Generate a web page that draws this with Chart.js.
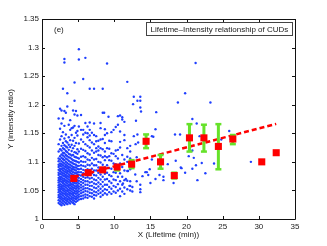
<!DOCTYPE html>
<html lang="en">
<head>
<meta charset="UTF-8">
<title>Lifetime-Intensity relationship of CUDs</title>
<script src="https://cdn.jsdelivr.net/npm/chart.js"></script>
<style>
  body { margin: 0; background: #fff; }
</style>
</head>
<body>
<canvas id="cud-chart" width="327" height="246"></canvas>
<script>
// binned means with green error bars
const meanX = [4.4, 6.4, 8.4, 10.4, 12.4, 14.4, 16.4, 18.3, 20.4, 22.4, 24.4, 26.4, 30.4, 32.4];
const meanY = [1.071, 1.081, 1.086, 1.091, 1.096, 1.136, 1.100, 1.076, 1.142, 1.142, 1.127, 1.140, 1.100, 1.116];
const errLo = [1.069, 1.079, 1.083, 1.085, 1.089, 1.124, 1.088, 1.071, 1.118, 1.118, 1.087, 1.131, 1.100, 1.116];
const errHi = [1.073, 1.083, 1.089, 1.094, 1.103, 1.148, 1.112, 1.081, 1.166, 1.165, 1.166, 1.147, 1.100, 1.116];

// dashed linear fit
const fitX = [4.4, 32.4];
const fitY = [1.0735, 1.1665];

// raw points, dense part: [x, y, y, y...]
const scatterCols = [
  [2.3, 1.028,1.033,1.038,1.042,1.047,1.051,1.055,1.059,1.064,1.068,1.072,1.077,1.081,1.086,1.091,1.095,1.101,1.106,1.118,1.131,1.176],
  [2.5, 1.026,1.031,1.036,1.040,1.044,1.049,1.053,1.057,1.061,1.066,1.070,1.074,1.079,1.084,1.088,1.093,1.097,1.104,1.110,1.122,1.139,1.158,1.193],
  [2.7, 1.024,1.029,1.034,1.038,1.043,1.047,1.052,1.056,1.060,1.065,1.069,1.073,1.078,1.082,1.087,1.092,1.096,1.101,1.107,1.113,1.120,1.128,1.145,1.167,1.190],
  [2.9, 1.027,1.032,1.036,1.041,1.045,1.050,1.054,1.058,1.063,1.067,1.071,1.076,1.080,1.085,1.089,1.094,1.099,1.105,1.111,1.116,1.124,1.133,1.152,1.176,1.228],
  [3.1, 1.025,1.030,1.035,1.039,1.044,1.048,1.052,1.057,1.061,1.066,1.070,1.075,1.079,1.083,1.088,1.092,1.097,1.103,1.109,1.115,1.122,1.129,1.141,1.163,1.189,1.274,1.280],
  [3.3, 1.028,1.033,1.037,1.042,1.046,1.050,1.055,1.059,1.064,1.068,1.073,1.077,1.082,1.086,1.091,1.095,1.100,1.106,1.112,1.119,1.127,1.136,1.148,1.186],
  [3.5, 1.026,1.031,1.035,1.040,1.044,1.049,1.053,1.058,1.062,1.066,1.071,1.075,1.080,1.084,1.089,1.093,1.098,1.104,1.110,1.117,1.125,1.134,1.197,1.220],
  [3.7, 1.029,1.034,1.038,1.043,1.047,1.051,1.056,1.060,1.065,1.069,1.074,1.078,1.083,1.087,1.091,1.096,1.102,1.108,1.114,1.121,1.130,1.143,1.165],
  [3.9, 1.027,1.032,1.036,1.041,1.045,1.050,1.054,1.059,1.063,1.067,1.072,1.076,1.081,1.085,1.090,1.095,1.100,1.107,1.113,1.126,1.138,1.156,1.173],
  [4.1, 1.030,1.035,1.039,1.044,1.048,1.053,1.057,1.061,1.066,1.070,1.075,1.079,1.084,1.088,1.093,1.099,1.105,1.111,1.119,1.130,1.147,1.159],
  [4.3, 1.028,1.033,1.037,1.042,1.046,1.051,1.055,1.060,1.064,1.068,1.073,1.077,1.082,1.087,1.091,1.097,1.103,1.112,1.124,1.137,1.160,1.190],
  [4.5, 1.026,1.031,1.036,1.040,1.045,1.049,1.054,1.058,1.063,1.067,1.072,1.076,1.081,1.086,1.090,1.096,1.102,1.109,1.117,1.128,1.142,1.163,1.183,1.207,1.239],
  [4.7, 1.030,1.035,1.039,1.044,1.048,1.053,1.057,1.062,1.066,1.071,1.075,1.080,1.085,1.090,1.095,1.101,1.108,1.116,1.133,1.151,1.189],
  [4.9, 1.032,1.037,1.041,1.046,1.050,1.055,1.059,1.064,1.068,1.073,1.078,1.082,1.088,1.093,1.100,1.107,1.114,1.122,1.146,1.154,1.181],
  [5.1, 1.034,1.039,1.043,1.048,1.053,1.057,1.062,1.067,1.072,1.077,1.082,1.087,1.093,1.099,1.106,1.118,1.132,1.162,1.279,1.297],
  [5.4, 1.035,1.040,1.045,1.050,1.055,1.060,1.065,1.070,1.076,1.082,1.088,1.094,1.101,1.109,1.123,1.139,1.156,1.182],
  [5.7, 1.036,1.041,1.047,1.052,1.057,1.063,1.068,1.074,1.080,1.086,1.093,1.100,1.110,1.121,1.135,1.148,1.156,1.245],
  [6.0, 1.038,1.043,1.049,1.054,1.060,1.066,1.072,1.078,1.085,1.092,1.100,1.108,1.119,1.131,1.151,1.168,1.282],
  [6.3, 1.037,1.042,1.048,1.054,1.060,1.066,1.073,1.080,1.087,1.095,1.104,1.115,1.128,1.143,1.150,1.162],
  [6.6, 1.040,1.046,1.052,1.058,1.064,1.071,1.078,1.086,1.094,1.103,1.113,1.125,1.138,1.146,1.156,1.169,1.228],
  [6.9, 1.039,1.045,1.051,1.058,1.065,1.072,1.080,1.088,1.097,1.107,1.120,1.134,1.151],
  [7.2, 1.036,1.042,1.048,1.055,1.062,1.069,1.077,1.085,1.094,1.104,1.116,1.131,1.147,1.167,1.228],
  [7.5, 1.041,1.047,1.054,1.061,1.068,1.076,1.085,1.094,1.105,1.118,1.124,1.136,1.145],
  [7.8, 1.044,1.050,1.057,1.064,1.072,1.081,1.090,1.100,1.112,1.120,1.127,1.137],
  [8.1, 1.039,1.046,1.053,1.061,1.069,1.078,1.088,1.099,1.111,1.124,1.139,1.159,1.168],
  [8.4, 1.042,1.049,1.057,1.065,1.074,1.084,1.095,1.108,1.122,1.140,1.186,1.228],
  [8.7, 1.045,1.052,1.060,1.069,1.079,1.090,1.103,1.110,1.118,1.133,1.147,1.157],
  [9.0, 1.043,1.051,1.060,1.070,1.081,1.094,1.108,1.124,1.150,1.272],
  [9.3, 1.047,1.056,1.066,1.077,1.089,1.103,1.110,1.123,1.137],
  [9.6, 1.044,1.053,1.063,1.075,1.088,1.102,1.115,1.136,1.152],
  [9.9, 1.048,1.058,1.069,1.082,1.097,1.114,1.156],
  [10.2, 1.046,1.056,1.068,1.081,1.096,1.110,1.120,1.161],
  [10.5, 1.050,1.061,1.074,1.089,1.106,1.121,1.165,1.180],
  [10.8, 1.040,1.053,1.066,1.080,1.097,1.125,1.135,1.153,1.181],
  [11.1, 1.048,1.060,1.074,1.091,1.112,1.174,1.178],
  [11.4, 1.044,1.055,1.068,1.085,1.104,1.138,1.147,1.170],
  [11.8, 1.052,1.067,1.084,1.100,1.109,1.124,1.240],
  [12.2, 1.050,1.058,1.066,1.087,1.106,1.118,1.128]
];

// raw points, sparse part
const scatterExtra = [
  [12.5, 1.048], [12.5, 1.056], [12.6, 1.201], [12.7, 1.214], [12.9, 1.078], [13.0, 1.172], [13.1, 1.066],
  [13.1, 1.108], [13.2, 1.207], [12.95, 1.131], [13.3, 1.134], [12.7, 1.145], [13.2, 1.148], [13.6, 1.214],
  [13.6, 1.207], [13.6, 1.195], [13.7, 1.188], [13.6, 1.060], [13.6, 1.052], [13.6, 1.047], [13.9, 1.075],
  [14.3, 1.082], [11.9, 1.084], [14.5, 1.082], [14.7, 1.077], [14.9, 1.087], [15.0, 1.063], [15.2, 1.104],
  [15.2, 1.145], [15.4, 1.144], [15.7, 1.157], [15.8, 1.187], [15.7, 1.070], [16.25, 1.077], [16.8, 1.074],
  [16.8, 1.068], [17.4, 1.096], [18.2, 1.063], [18.4, 1.148], [18.5, 1.102], [18.8, 1.204], [19.1, 1.148],
  [19.2, 1.090], [19.3, 1.089], [19.8, 1.081], [19.8, 1.220], [20.3, 1.110], [20.8, 1.120], [20.8, 1.175],
  [20.8, 1.088], [21.0, 1.107], [21.25, 1.273], [21.3, 1.094], [21.4, 1.167], [21.5, 1.068], [21.8, 1.145],
  [22.1, 1.098], [22.6, 1.080], [23.3, 1.204], [23.8, 1.097], [24.8, 1.139], [25.9, 1.154], [26.1, 1.140],
  [28.9, 1.100], [9.2, 1.179], [8.6, 1.186], [11.2, 1.062], [11.6, 1.070], [12.1, 1.058]
];

const scatterPts = [];
scatterCols.forEach(col => {
  for (let i = 1; i < col.length; i++) scatterPts.push({ x: col[0], y: col[i] });
});
scatterExtra.forEach(p => scatterPts.push({ x: p[0], y: p[1] }));

// error bar segments, null breaks the line between bars
const errPts = [];
meanX.forEach((x, i) => {
  if (errHi[i] > errLo[i]) {
    errPts.push({ x: x, y: errLo[i] }, { x: x, y: errHi[i] }, { x: x, y: null });
  }
});

const FONT = 'Arial, "Liberation Sans", Helvetica, sans-serif';
const TXT = '#1a1a1a';

// MATLAB style box with inward ticks, panel tag and text box
const frameBox = {
  id: 'frameBox',
  afterDraw(chart) {
    const ctx = chart.ctx;
    const a = chart.chartArea;
    const xs = chart.scales.x, ys = chart.scales.y;
    const tl = 3;
    ctx.save();
    ctx.strokeStyle = '#111';
    ctx.lineWidth = 1;
    ctx.beginPath();
    ctx.rect(Math.round(a.left) + 0.5, Math.round(a.top) + 0.5,
      Math.round(a.right - a.left), Math.round(a.bottom - a.top));
    xs.ticks.forEach(t => {
      const px = Math.round(xs.getPixelForValue(t.value)) + 0.5;
      ctx.moveTo(px, a.bottom); ctx.lineTo(px, a.bottom - tl);
      ctx.moveTo(px, a.top); ctx.lineTo(px, a.top + tl);
    });
    ys.ticks.forEach(t => {
      const py = Math.round(ys.getPixelForValue(t.value)) + 0.5;
      ctx.moveTo(a.left, py); ctx.lineTo(a.left + tl, py);
      ctx.moveTo(a.right, py); ctx.lineTo(a.right - tl, py);
    });
    ctx.stroke();

    ctx.fillStyle = TXT;
    ctx.font = '8px ' + FONT;
    ctx.textBaseline = 'middle';
    ctx.textAlign = 'left';
    ctx.fillText('(e)', a.left + 12, a.top + 11);

    const label = 'Lifetime\u2013Intensity relationship of CUDs';
    const w = ctx.measureText(label).width;
    const bx = Math.round(a.right - 3 - w - 8) + 0.5;
    const by = Math.round(a.top + 3) + 0.5;
    ctx.fillStyle = '#fff';
    ctx.fillRect(bx, by, w + 8, 13);
    ctx.strokeStyle = '#444';
    ctx.strokeRect(bx, by, Math.round(w + 8), 13);
    ctx.fillStyle = TXT;
    ctx.fillText(label, bx + 4, by + 7);
    ctx.restore();
  }
};

new Chart(document.getElementById('cud-chart'), {
  type: 'scatter',
  data: {
    datasets: [
      {
        label: 'means',
        data: meanX.map((x, i) => ({ x: x, y: meanY[i] })),
        pointStyle: 'rect',
        pointRadius: 5,
        backgroundColor: '#ff0000',
        borderColor: '#ff0000',
        borderWidth: 0,
        order: 0
      },
      {
        type: 'line',
        label: 'errors',
        data: errPts,
        borderColor: '#66e22a',
        borderWidth: 3,
        spanGaps: false,
        pointStyle: 'line',
        pointRadius: 3,
        pointBorderWidth: 2.5,
        pointBorderColor: '#66e22a',
        order: 1
      },
      {
        type: 'line',
        label: 'fit',
        data: fitX.map((x, i) => ({ x: x, y: fitY[i] })),
        borderColor: '#ff0000',
        borderWidth: 2.5,
        borderDash: [5, 3],
        pointRadius: 0,
        order: 2
      },
      {
        label: 'lifetimes',
        data: scatterPts,
        pointRadius: 1.2,
        borderWidth: 0,
        backgroundColor: '#1f3fff',
        order: 3
      }
    ]
  },
  options: {
    responsive: false,
    animation: false,
    devicePixelRatio: 1,
    layout: { padding: { left: 0, right: 32, top: 19, bottom: 0 } },
    plugins: {
      legend: { display: false },
      tooltip: { enabled: false }
    },
    scales: {
      x: {
        type: 'linear',
        min: 0,
        max: 35,
        grid: { display: false, drawTicks: false },
        border: { display: false },
        ticks: { stepSize: 5, autoSkip: false, maxRotation: 0, padding: 3, color: TXT, font: { family: FONT, size: 8 } },
        title: { display: true, text: 'X (Lifetime (min))', color: TXT, font: { family: FONT, size: 8 }, padding: { top: 0, bottom: 6 } },
        afterFit: s => { s.height = 27; }
      },
      y: {
        min: 1,
        max: 1.35,
        grid: { display: false, drawTicks: false },
        border: { display: false },
        ticks: {
          stepSize: 0.05, autoSkip: false, padding: 3, color: TXT, font: { family: FONT, size: 8 },
          callback: v => String(+v.toFixed(2))
        },
        title: { display: true, text: 'Y (intensity ratio)', color: TXT, font: { family: FONT, size: 8 }, padding: { top: 6, bottom: 0 } },
        afterFit: s => { s.width = 42; }
      }
    }
  },
  plugins: [frameBox]
});
</script>
</body>
</html>
